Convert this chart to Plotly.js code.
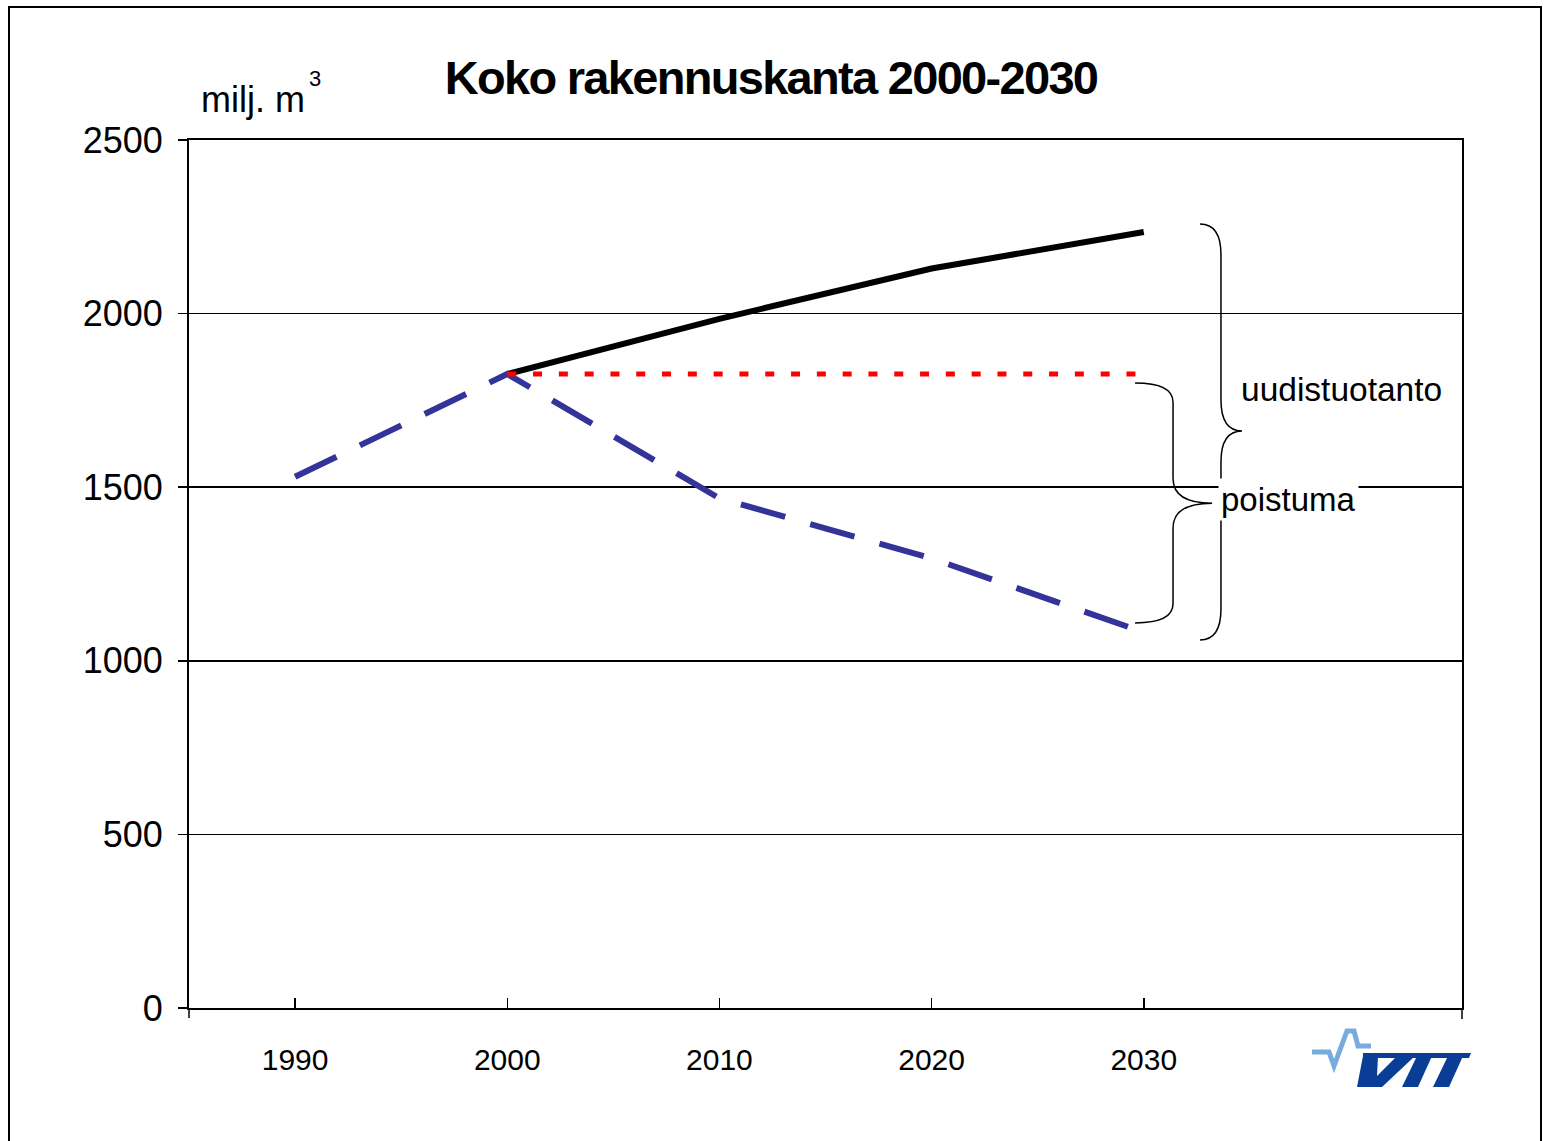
<!DOCTYPE html>
<html>
<head>
<meta charset="utf-8">
<script src="https://cdn.plot.ly/plotly-3.0.1.min.js"></script>
<style>
  html, body { margin: 0; padding: 0; background: #ffffff; }
  #chart { width: 1545px; height: 1141px; }
  .gtitle { letter-spacing: -1.7px; }
</style>
</head>
<body>
<div id="chart"></div>
<script>
// ---- data ----
const years = [1990, 2000, 2010, 2020, 2030];
const yearLabels = ["1990", "2000", "2010", "2020", "2030"];
const kokonais = [null, 1826, 1985, 2130, 2235];      // black solid line
const poistuma = [1530, 1826, 1468, 1295, 1082];      // blue dashed line
const taso2000 = [null, 1826, 1826, 1826, 1826];      // red dotted line
const yTicks = [0, 500, 1000, 1500, 2000, 2500];

// ---- geometry helpers (plot area: x 189..1462 px, y 140..1008 px) ----
const L = 189, R = 1462, T = 140, B = 1008;
const px2x = p => (p - L) / (R - L);
const py2y = p => (B - p) / (B - T);
const P = (x, y) => px2x(x).toFixed(5) + "," + py2y(y).toFixed(5);

function brace(x0, x1, x2, yTop, yTip, yBot, rEnd, rTip) {
  return "M" + x0 + "," + yTop +
    " Q" + x1 + "," + yTop + " " + x1 + "," + (yTop - rEnd) +
    " L" + x1 + "," + (yTip + rTip) +
    " Q" + x1 + "," + yTip + " " + x2 + "," + yTip +
    " Q" + x1 + "," + yTip + " " + x1 + "," + (yTip - rTip) +
    " L" + x1 + "," + (yBot + rEnd) +
    " Q" + x1 + "," + yBot + " " + x0 + "," + yBot;
}

const traces = [
  { x: years, y: kokonais, mode: "lines", type: "scatter", name: "Koko rakennuskanta",
    line: { color: "#000000", width: 6 }, connectgaps: false, hoverinfo: "x+y" },
  { x: years, y: poistuma, mode: "lines", type: "scatter", name: "poistuma",
    line: { color: "#333399", width: 6, dash: "46px,26px" }, hoverinfo: "x+y" },
  { x: years, y: taso2000, mode: "lines", type: "scatter", name: "2000 taso",
    line: { color: "#ff0000", width: 5, dash: "9px,16.8px" }, hoverinfo: "x+y" }
];

const shapes = [
  // outer frame
  { type: "rect", xref: "paper", yref: "paper",
    x0: px2x(9), x1: px2x(1541), y0: py2y(1160), y1: py2y(7),
    line: { color: "#000000", width: 2 }, fillcolor: "rgba(0,0,0,0)" },
  // small outside ticks at the bottom corners
  { type: "line", xref: "paper", yref: "paper", x0: px2x(189), x1: px2x(189), y0: 0, y1: py2y(1018),
    line: { color: "#000000", width: 1.5 } },
  { type: "line", xref: "paper", yref: "paper", x0: px2x(1462), x1: px2x(1462), y0: 0, y1: py2y(1019),
    line: { color: "#000000", width: 1.5 } },
  // big brace (uudistuotanto)
  { type: "path", xref: "x", yref: "y",
    path: brace(2032.65, 2033.64, 2034.63, 2258, 1662, 1060, 89, 89),
    line: { color: "#000000", width: 1.5 } },
  // small brace (poistuma)
  { type: "path", xref: "x", yref: "y",
    path: brace(2029.59, 2031.38, 2033.22, 1800, 1454, 1109, 55, 72),
    line: { color: "#000000", width: 1.5 } },
  // VTT logo: light blue pulse
  { type: "path", xref: "paper", yref: "paper",
    path: "M" + P(1312, 1052) + " L" + P(1329, 1052) + " L" + P(1334, 1066) + " L" + P(1347, 1031) +
          " L" + P(1354, 1031) + " L" + P(1358, 1046) + " L" + P(1371, 1046),
    line: { color: "#78acdc", width: 5 } },
  // VTT logo: top bar
  { type: "path", xref: "paper", yref: "paper",
    path: "M" + P(1363, 1053) + " L" + P(1471, 1053) + " L" + P(1469, 1058) + " L" + P(1363, 1058) + " Z",
    fillcolor: "#0a3d96", line: { width: 0 } },
  // V
  { type: "path", xref: "paper", yref: "paper",
    path: "M" + P(1363, 1056) + " L" + P(1378, 1056) + " L" + P(1377, 1076) + " L" + P(1397, 1056) +
          " L" + P(1415, 1056) + " L" + P(1382, 1087) + " L" + P(1357, 1087) + " Z",
    fillcolor: "#0a3d96", line: { width: 0 } },
  // T
  { type: "path", xref: "paper", yref: "paper",
    path: "M" + P(1417, 1056) + " L" + P(1432, 1056) + " L" + P(1418, 1087) + " L" + P(1402, 1087) + " Z",
    fillcolor: "#0a3d96", line: { width: 0 } },
  // T
  { type: "path", xref: "paper", yref: "paper",
    path: "M" + P(1448, 1056) + " L" + P(1463, 1056) + " L" + P(1449, 1087) + " L" + P(1433, 1087) + " Z",
    fillcolor: "#0a3d96", line: { width: 0 } }
];

const font = "'Liberation Sans', Arial, sans-serif";

const annotations = [
  { text: "milj. m", xref: "paper", yref: "paper", x: px2x(199), y: py2y(100),
    xanchor: "left", yanchor: "middle", showarrow: false,
    font: { family: font, size: 36, color: "#000000" } },
  { text: "3", xref: "paper", yref: "paper", x: px2x(307), y: py2y(78),
    xanchor: "left", yanchor: "middle", showarrow: false,
    font: { family: font, size: 22, color: "#000000" } },
  { text: "uudistuotanto", xref: "paper", yref: "paper", x: px2x(1239), y: py2y(389),
    xanchor: "left", yanchor: "middle", showarrow: false,
    font: { family: font, size: 33.5, color: "#000000" } },
  { text: "poistuma", xref: "paper", yref: "paper", x: px2x(1218), y: py2y(499),
    xanchor: "left", yanchor: "middle", showarrow: false, bgcolor: "#ffffff", borderpad: 2,
    font: { family: font, size: 33, color: "#000000" } }
];

const layout = {
  width: 1545, height: 1141, autosize: false,
  margin: { l: L, r: 1545 - R, t: T, b: 1141 - B, pad: 0 },
  paper_bgcolor: "#ffffff", plot_bgcolor: "#ffffff",
  showlegend: false,
  title: { text: "Koko rakennuskanta 2000-2030", xref: "paper", x: px2x(771), xanchor: "center",
           yref: "container", y: 1 - 78 / 1141, yanchor: "middle",
           font: { family: font, size: 47, color: "#000000", weight: "bold" } },
  xaxis: {
    range: [1985, 2045], tickmode: "array", tickvals: years, ticktext: yearLabels,
    ticks: "inside", ticklen: 10, tickwidth: 1.5, tickcolor: "#000000",
    showgrid: false, zeroline: false, showline: true, linewidth: 2, linecolor: "#000000", mirror: true,
    tickfont: { family: font, size: 30, color: "#000000" }, ticklabelstandoff: 24, fixedrange: true
  },
  yaxis: {
    range: [0, 2500], tickmode: "array", tickvals: yTicks, ticktext: yTicks.map(String),
    ticks: "outside", ticklen: 9, tickwidth: 1.5, tickcolor: "#000000",
    showgrid: true, gridcolor: "#000000", gridwidth: 1.5,
    zeroline: false, showline: true, linewidth: 2, linecolor: "#000000", mirror: true,
    tickfont: { family: font, size: 36, color: "#000000" }, ticklabelstandoff: 8, fixedrange: true
  },
  shapes: shapes,
  annotations: annotations
};

Plotly.newPlot("chart", traces, layout, { displayModeBar: false, staticPlot: true });
</script>
</body>
</html>
